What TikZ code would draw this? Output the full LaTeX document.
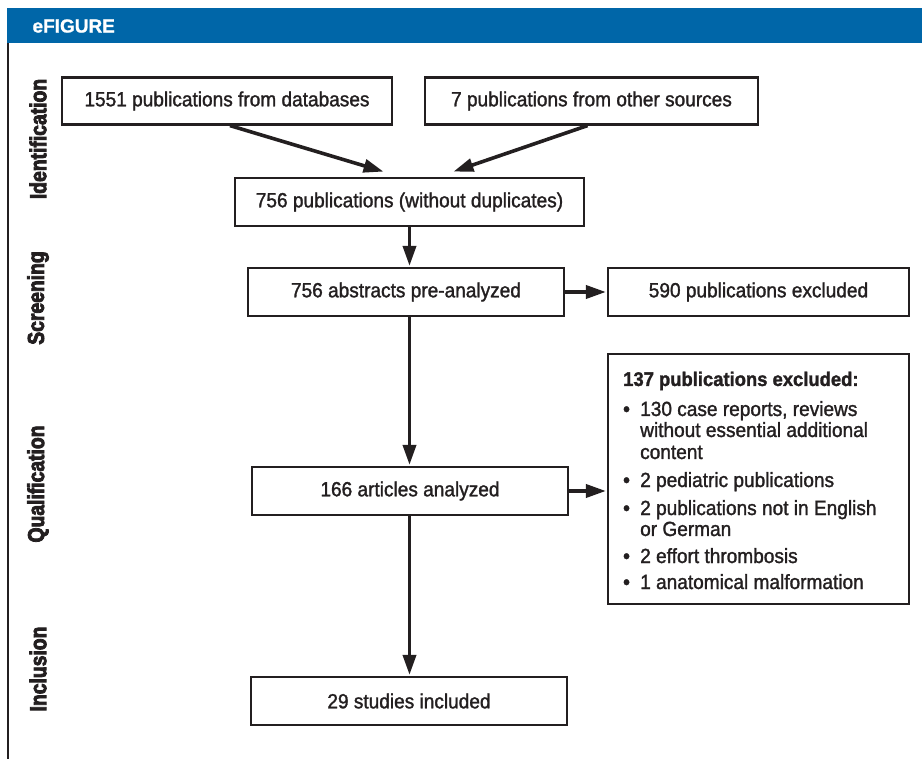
\documentclass[tikz,border=0pt]{standalone}
\usepackage{fontspec}
\setmainfont{Liberation Sans}
\newfontfamily\bodyfont{Liberation Sans}[RawFeature={embolden=1.4}, FakeStretch=0.93]
\newfontfamily\phasefont{Liberation Sans}[RawFeature={embolden=3.5}, FakeStretch=0.84]
\newfontfamily\hdrfont{Liberation Sans}[RawFeature={embolden=1}]
\usetikzlibrary{arrows.meta}
\definecolor{hdrblue}{RGB}{0,102,168}
\definecolor{ink}{RGB}{35,31,32}
\tikzset{
  box/.style={draw=ink, line width=2.2pt, fill=white, text=ink, inner sep=0pt,
    font=\bodyfont\fontsize{20.5}{24}\selectfont, align=center},
  arr/.style={draw=ink, line width=3.6pt, -{Triangle[length=20pt,width=13pt]}, shorten >=1pt},
  phase/.style={rotate=90, text=ink, font=\phasefont\bfseries\fontsize{23}{26}\selectfont}
}
\begin{document}
\begin{tikzpicture}[x=1pt,y=-1pt]
\useasboundingbox (0,0) rectangle (922,759);
% header
\fill[hdrblue] (7,8) rectangle (922,43);
\node[anchor=west, text=white, font=\hdrfont\bfseries\fontsize{19}{23}\selectfont] (hdr) at (29,26) {eFIGURE};
% left frame line
\draw[ink, line width=2pt] (8,43) -- (8,759);
% phase labels
\node[phase] (pid) at (38,139) {Identification};
\node[phase] (psc) at (38,298) {Screening};
\node[phase] (pqu) at (38,484) {Qualification};
\node[phase] (pin) at (38,669) {Inclusion};
% boxes
\node[box, minimum width=330pt, minimum height=47pt] (db) at (227,101) {1551 publications from databases};
\node[box, minimum width=333pt, minimum height=47pt] (os) at (591.5,101) {7 publications from other sources};
\node[box, minimum width=349pt, minimum height=48pt] (dup) at (409.5,202) {756 publications (without duplicates)};
\node[box, minimum width=316pt, minimum height=48pt] (abs) at (406,292) {756 abstracts pre-analyzed};
\node[box, minimum width=301pt, minimum height=48pt] (ex1) at (758.5,292) {590 publications excluded};
\node[box, minimum width=316pt, minimum height=48pt] (ana) at (410,491) {166 articles analyzed};
\node[box, minimum width=301pt, minimum height=250pt] (ex2) at (758.5,479) {};
\node[box, minimum width=316pt, minimum height=48pt] (inc) at (409,701) {29 studies included};
% text of the exclusion list
\begin{scope}[every node/.style={anchor=base west, text=ink, inner sep=0pt, font=\bodyfont\fontsize{20.5}{24}\selectfont}]
\node[font=\bodyfont\bfseries\fontsize{19.8}{22}\selectfont] (l0) at (623,386) {137 publications excluded:};
\node[font=\bodyfont\bfseries\fontsize{20.5}{24}\selectfont] (b1) at (623,416) {\textbullet};
\node (l1) at (640,416) {130 case reports, reviews};
\node (l1b) at (640,437) {without essential additional};
\node (l1c) at (640,459) {content};
\node[font=\bodyfont\bfseries\fontsize{20.5}{24}\selectfont] (b2) at (623,487) {\textbullet};
\node (l2) at (640,487) {2 pediatric publications};
\node[font=\bodyfont\bfseries\fontsize{20.5}{24}\selectfont] (b3) at (623,515) {\textbullet};
\node (l3) at (640,515) {2 publications not in English};
\node (l3b) at (640,536) {or German};
\node[font=\bodyfont\bfseries\fontsize{20.5}{24}\selectfont] (b4) at (623,563) {\textbullet};
\node (l4) at (640,563) {2 effort thrombosis};
\node[font=\bodyfont\bfseries\fontsize{20.5}{24}\selectfont] (b5) at (623,589) {\textbullet};
\node (l5) at (640,589) {1 anatomical malformation};
\end{scope}
% connectors
\draw[arr] ([xshift=3pt]db.south) -- ([xshift=-25pt,yshift=5pt]dup.north);
\draw[arr] ([xshift=-4pt]os.south) -- ([xshift=43pt,yshift=5pt]dup.north);
\draw[arr] (dup.south) -- (dup.south |- abs.north);
\draw[arr] (abs.east) -- (ex1.west);
\draw[arr] (dup.south |- abs.south) -- (dup.south |- ana.north);
\draw[arr] (ana.east) -- (ana.east -| ex2.west);
\draw[arr] (dup.south |- ana.south) -- (dup.south |- inc.north);
\end{tikzpicture}
\end{document}
